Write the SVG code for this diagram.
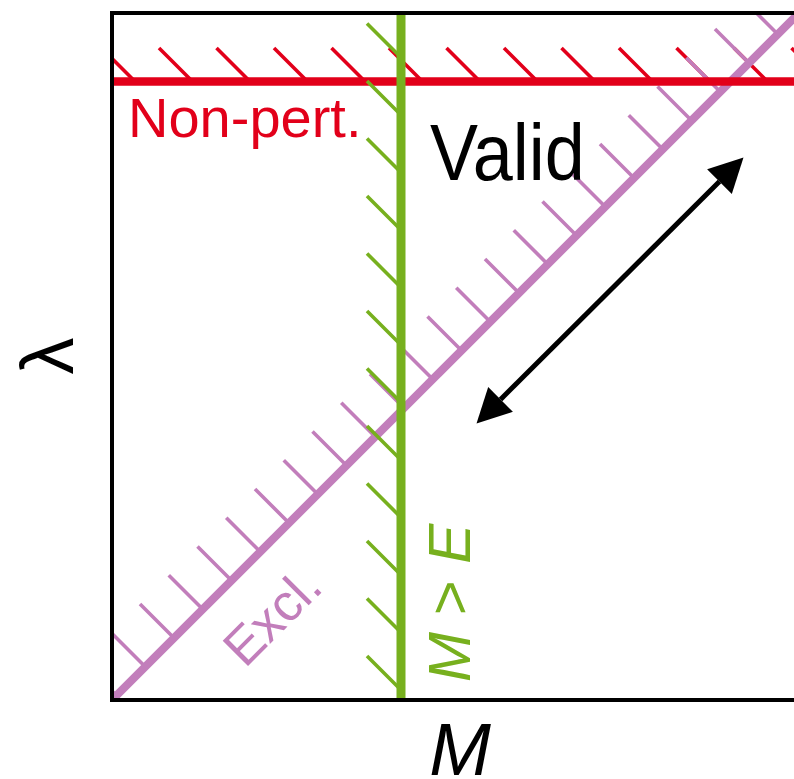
<svg xmlns="http://www.w3.org/2000/svg" width="794" height="779" viewBox="0 0 794 779">
<defs>
<style>
.red{stroke:#E2001A;fill:none}
.grn{stroke:#77B01E;fill:none}
.pur{stroke:#C27EBB;fill:none}
.hatch{stroke-width:3.6}
.lbl{font-family:"Liberation Sans",Arial,sans-serif}
</style>
<clipPath id="frameClip"><rect x="112" y="13" width="688" height="687"/></clipPath>
</defs>
<rect width="794" height="779" fill="#fff"/>
<g id="regions" clip-path="url(#frameClip)">
<g id="red-hatch" class="red hatch">
<path d="M101.5,48l33,33M159,48l33,33M216.5,48l33,33M274,48l33,33M331.5,48l33,33M389,48l33,33M446.5,48l33,33M504,48l33,33M561.5,48l33,33M619,48l33,33M676.5,48l33,33M734,48l33,33M791.5,48l33,33"/>
</g>
<g id="purple-hatch" class="pur hatch">
<path d="M82.5,661.5l34,34M111.25,632.75l34,34M140,604l34,34M168.75,575.25l34,34M197.5,546.5l34,34M226.25,517.75l34,34M255,489l34,34M283.75,460.25l34,34M312.5,431.5l34,34M341.25,402.75l34,34M370,374l34,34M398.75,345.25l34,34M427.5,316.5l34,34M456.25,287.75l34,34M485,259l34,34M513.75,230.25l34,34M542.5,201.5l34,34M571.25,172.75l34,34M600,144l34,34M628.75,115.25l34,34M657.5,86.5l34,34M686.25,57.75l34,34M715,29l34,34M743.75,0.25l34,34"/>
</g>
<line id="excl-line" class="pur" x1="112" y1="700" x2="812" y2="0" stroke-width="8"/>
<line id="nonpert-line" class="red" x1="112" y1="81.5" x2="800" y2="81.5" stroke-width="8.5"/>
<g id="green-hatch" class="grn hatch">
<path d="M367,23.5l34,34M367,81l34,34M367,138.5l34,34M367,196l34,34M367,253.5l34,34M367,311l34,34M367,368.5l34,34M367,426l34,34M367,483.5l34,34M367,541l34,34M367,598.5l34,34M367,656l34,34"/>
</g>
<line id="mass-line" class="grn" x1="401" y1="13" x2="401" y2="700" stroke-width="9"/>
</g>
<rect id="frame" x="112" y="13" width="688" height="687" fill="none" stroke="#000" stroke-width="4"/>
<g id="connectors">
<line x1="719.46" y1="181.54" x2="500.54" y2="399.46" stroke="#000" stroke-width="5"/>
<polygon points="743.5,157.5 731.8,193.9 707.1,169.2" fill="#000"/>
<polygon points="476.5,423.5 488.2,387.1 512.9,411.8" fill="#000"/>
</g>
<g id="labels" class="lbl">
<text id="nonpert-label" x="128" y="136.5" font-size="56" fill="#E2001A">Non-pert.</text>
<text id="valid-label" transform="translate(430,180) scale(1,1.1)" font-size="72" fill="#000">Valid</text>
<text id="excl-label" transform="translate(245,669) rotate(-45)" font-size="52" fill="#C27EBB">Excl.</text>
<text id="me-label" transform="translate(470,682) rotate(-90)" font-size="60" fill="#77B01E"><tspan font-style="italic">M</tspan> &gt; <tspan font-style="italic">E</tspan></text>
<text id="x-axis" x="460" y="775" font-size="74" font-style="italic" text-anchor="middle" fill="#000">M</text>
<text id="y-axis" transform="translate(73,356) rotate(-90)" font-size="74" text-anchor="middle" fill="#000">λ</text>
</g>
</svg>
